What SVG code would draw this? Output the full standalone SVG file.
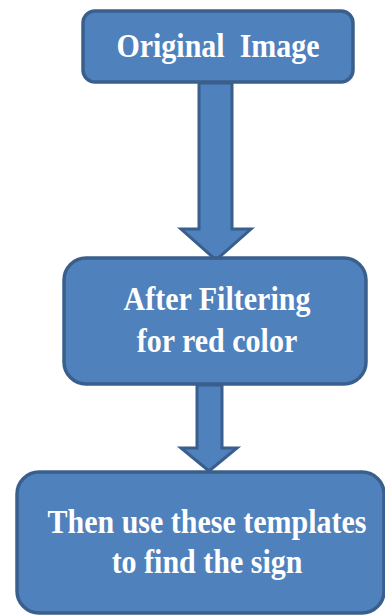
<svg xmlns="http://www.w3.org/2000/svg" width="385" height="615" viewBox="0 0 385 615">
<style>
.box{fill:#4f81bd;stroke:#3a5f8c;stroke-width:3.5}
.arr{fill:#4f81bd;stroke:#3a5f8c;stroke-width:3;stroke-linejoin:miter}
.t{font-family:'Liberation Serif','Times New Roman',serif;font-weight:700;fill:#ffffff;font-size:30px;text-anchor:middle;white-space:pre}
</style>
<rect width="385" height="615" fill="#ffffff"/>
<g id="connectors">
<polygon class="arr" points="199,83 232,83 232,229 251,229 216,260 181,229 199,229"/>
<polygon class="arr" points="197,385 222,385 222,448 237,448 209,471 181,448 197,448"/>
</g>
<g id="node-original">
<rect class="box" x="83" y="11" width="270" height="71" rx="12"/>
<text class="t" transform="translate(218,57) scale(1,1.1)" xml:space="preserve">Original  Image</text>
</g>
<g id="node-filter">
<rect class="box" x="64" y="258" width="302" height="126" rx="22"/>
<text class="t" transform="translate(217,310) scale(1,1.1)">After Filtering</text>
<text class="t" transform="translate(217,352) scale(1,1.1)">for red color</text>
</g>
<g id="node-templates">
<rect class="box" x="17" y="472" width="367" height="141" rx="22"/>
<text class="t" transform="translate(207,533) scale(1,1.1)">Then use these templates</text>
<text class="t" transform="translate(207,573) scale(1,1.1)">to find the sign</text>
</g>
</svg>
